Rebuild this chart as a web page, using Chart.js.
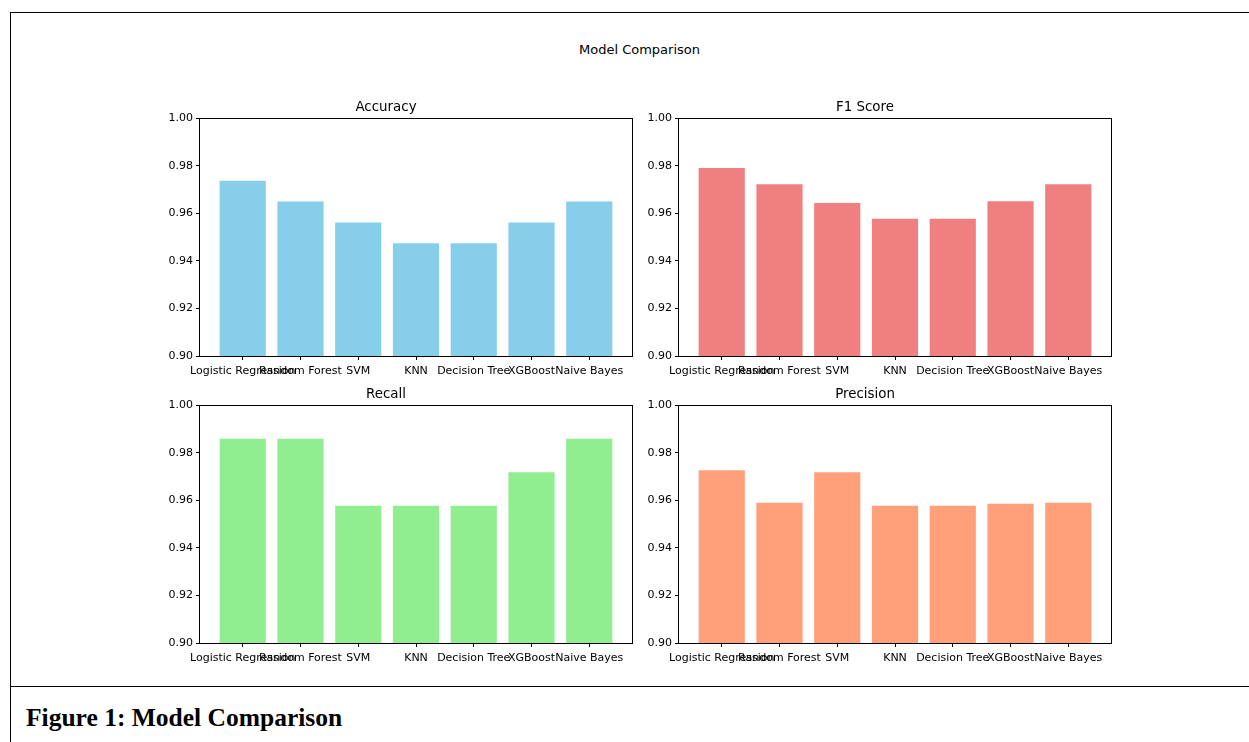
<!DOCTYPE html>
<html>
<head>
<meta charset="utf-8">
<title>Model Comparison</title>
<script src="https://cdn.jsdelivr.net/npm/chart.js@4.4.1/dist/chart.umd.min.js"></script>
<style>
    body { margin: 0; background: #fff; width: 1249px; height: 742px; overflow: hidden; position: relative; }
    .frame-left { position: absolute; left: 10px; top: 12px; width: 1px; height: 740px; background: #000; }
    .frame-top { position: absolute; left: 10px; top: 12px; width: 1240px; height: 1px; background: #000; }
    .frame-mid { position: absolute; left: 10px; top: 686px; width: 1240px; height: 1px; background: #000; }
    .suptitle { position: absolute; left: 0; top: 42px; width: 1279px; text-align: center;
        font: 13px "DejaVu Sans", sans-serif; line-height: 16px; color: #000; }
    .caption { position: absolute; left: 26px; top: 702px; font: bold 25.5px "Liberation Serif", serif;
        line-height: 32px; color: #000; }
    .panel { position: absolute; }
</style>
</head>
<body>
<div class="frame-left"></div>
<div class="frame-top"></div>
<div class="frame-mid"></div>
<div class="suptitle">Model Comparison</div>

<canvas class="panel" id="accuracyChart" width="502" height="290" style="left:140px;top:92px"></canvas>
<canvas class="panel" id="f1Chart" width="502" height="290" style="left:619px;top:92px"></canvas>
<canvas class="panel" id="recallChart" width="502" height="290" style="left:140px;top:379px"></canvas>
<canvas class="panel" id="precisionChart" width="502" height="290" style="left:619px;top:379px"></canvas>

<div class="caption">Figure 1: Model Comparison</div>

<script>
// Models on the x axis
const models = ['Logistic Regression', 'Random Forest', 'SVM', 'KNN', 'Decision Tree', 'XGBoost', 'Naive Bayes'];

// Scores
const accuracy = [0.9737, 0.9649, 0.9561, 0.9474, 0.9474, 0.9561, 0.9649];
const f1Score = [0.9790, 0.9722, 0.9643, 0.9577, 0.9577, 0.9650, 0.9722];
const recall = [0.9859, 0.9859, 0.9577, 0.9577, 0.9577, 0.9718, 0.9859];
const precision = [0.9726, 0.9589, 0.9718, 0.9577, 0.9577, 0.9585, 0.9589];

// Y axis tick labels
const yTicks = [0.90, 0.92, 0.94, 0.96, 0.98, 1.00];

Chart.defaults.font.family = '"DejaVu Sans", sans-serif';
Chart.defaults.color = '#000';

// Draws the four spines around the plot area, like matplotlib
const frameBox = {
    id: 'frameBox',
    afterDraw(chart) {
        const { ctx, chartArea } = chart;
        ctx.save();
        ctx.strokeStyle = '#000';
        ctx.lineWidth = 1;
        ctx.strokeRect(Math.round(chartArea.left) - 0.5, Math.round(chartArea.top) + 0.5,
            Math.round(chartArea.right - chartArea.left) + 1, Math.round(chartArea.bottom - chartArea.top));
        ctx.restore();
    }
};

function makeChart(canvasId, title, values, color) {
    return new Chart(document.getElementById(canvasId), {
        type: 'bar',
        data: {
            datasets: [{
                data: values.map((v, i) => ({ x: i, y: v })),
                backgroundColor: color,
                borderWidth: 0,
                barPercentage: 0.8,
                categoryPercentage: 1.0
            }]
        },
        options: {
            responsive: false,
            animation: false,
            layout: { padding: { left: 0, right: 10, top: 0, bottom: 0 } },
            plugins: {
                legend: { display: false },
                tooltip: { enabled: false },
                title: {
                    display: true,
                    text: title,
                    color: '#000',
                    font: { size: 13.4, weight: 'normal' },
                    padding: { top: 7, bottom: 3 }
                }
            },
            scales: {
                x: {
                    type: 'linear',
                    min: -0.74,
                    max: 6.74,
                    offset: false,
                    border: { display: false },
                    grid: { offset: false, drawOnChartArea: false, drawTicks: true, tickLength: 4, color: '#000', lineWidth: 1 },
                    ticks: {
                        autoSkip: false,
                        maxRotation: 0,
                        minRotation: 0,
                        padding: 4.5,
                        font: { size: 11 },
                        callback: (v) => models[v]
                    },
                    afterBuildTicks: (scale) => {
                        scale.ticks = models.map((_, i) => ({ value: i }));
                    },
                    afterFit: (scale) => { scale.height = 26; }
                },
                y: {
                    min: 0.9,
                    max: 1.0,
                    border: { display: false },
                    grid: { drawOnChartArea: false, drawTicks: true, tickLength: 4, color: '#000', lineWidth: 1 },
                    ticks: {
                        padding: 3,
                        font: { size: 11 },
                        callback: (v) => Number(v).toFixed(2)
                    },
                    afterBuildTicks: (scale) => {
                        scale.ticks = yTicks.map((v) => ({ value: v }));
                    },
                    afterFit: (scale) => { scale.width = 60; }
                }
            }
        },
        plugins: [frameBox]
    });
}

makeChart('accuracyChart', 'Accuracy', accuracy, '#87CEEB');
makeChart('f1Chart', 'F1 Score', f1Score, '#F08080');
makeChart('recallChart', 'Recall', recall, '#90EE90');
makeChart('precisionChart', 'Precision', precision, '#FFA07A');
</script>
</body>
</html>
